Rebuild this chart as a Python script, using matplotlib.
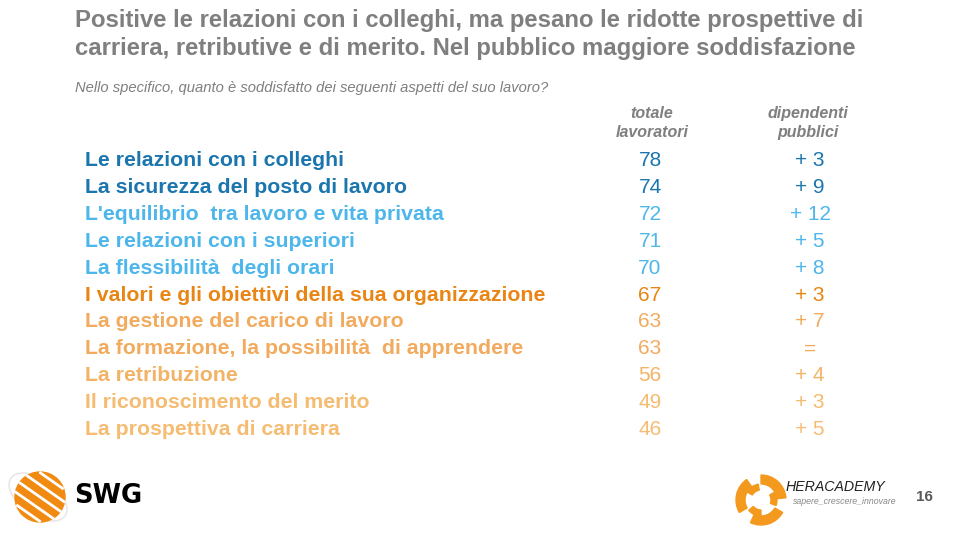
import matplotlib.pyplot as plt
from matplotlib.patches import Circle, Wedge, Ellipse
import numpy as np

plt.rcParams['font.family'] = ['Liberation Sans', 'DejaVu Sans']

title = ("Positive le relazioni con i colleghi, ma pesano le ridotte prospettive di\n"
         "carriera, retributive e di merito. Nel pubblico maggiore soddisfazione")
subtitle = "Nello specifico, quanto è soddisfatto dei seguenti aspetti del suo lavoro?"

aspects = [
    "Le relazioni con i colleghi",
    "La sicurezza del posto di lavoro",
    "L'equilibrio  tra lavoro e vita privata",
    "Le relazioni con i superiori",
    "La flessibilità  degli orari",
    "I valori e gli obiettivi della sua organizzazione",
    "La gestione del carico di lavoro",
    "La formazione, la possibilità  di apprendere",
    "La retribuzione",
    "Il riconoscimento del merito",
    "La prospettiva di carriera",
]
totale = [78, 74, 72, 71, 70, 67, 63, 63, 56, 49, 46]
pubblici = ["+ 3", "+ 9", "+ 12", "+ 5", "+ 8", "+ 3", "+ 7", "=", "+ 4", "+ 3", "+ 5"]
row_colors = ["#1B75AE", "#1B75AE", "#4DB6EA", "#4DB6EA", "#4DB6EA", "#E98514",
              "#F2AB5E", "#F2AB5E", "#F3B366", "#F5BB70", "#F5BC72"]
col_headers = ["totale\nlavoratori", "dipendenti\npubblici"]

W, H = 960, 540
fig = plt.figure(figsize=(W / 100, H / 100), dpi=100)
fig.patch.set_facecolor("white")

# title block
fig.text(75 / W, 1 - 9 / H, title, ha="left", va="top", fontsize=17.2,
         fontweight="bold", color="#7F7F7F", linespacing=1.27)
fig.text(75 / W, 1 - 88 / H, subtitle, ha="left", va="center", fontsize=10.6,
         style="italic", color="#7F7F7F")

# table
n = len(aspects)
ax = fig.add_axes([0, 1 - 443 / H, 1, 296 / H])
ax.set_xlim(0, W)
ax.set_ylim(n - 0.5, -0.5)
ax.axis("off")

for i, (lab, tot, pub, c) in enumerate(zip(aspects, totale, pubblici, row_colors)):
    ax.text(85, i, lab, ha="left", va="center", fontsize=15.3, fontweight="bold", color=c)
    ax.text(650, i, str(tot), ha="center", va="center", fontsize=15, color=c)
    ax.text(810, i, pub, ha="center", va="center", fontsize=15, color=c)

for x, h in zip([652, 808], col_headers):
    ax.text(x, -1.4, h, ha="center", va="center", fontsize=11.5, style="italic",
            fontweight="bold", color="#7F7F7F", linespacing=1.3)

# logos
lx = fig.add_axes([0, 0, 1, 1], zorder=-1)
lx.set_xlim(0, W)
lx.set_ylim(H, 0)
lx.axis("off")

lx.add_patch(Ellipse((38, 497), 66, 36, angle=35, fill=False, ec="#E8E8E8", lw=1.2))
lx.add_patch(Circle((40, 497), 25, color="#F08A10"))
for k in range(-2, 3):
    t = np.linspace(-1, 1, 30)
    xs = 40 + t * 26 * np.cos(np.radians(35)) - k * 10 * np.sin(np.radians(35))
    ys = 497 + t * 26 * np.sin(np.radians(35)) + k * 10 * np.cos(np.radians(35))
    inside = (xs - 40) ** 2 + (ys - 497) ** 2 < 25 ** 2
    lx.plot(xs[inside], ys[inside], color="white", lw=2)
lx.text(74, 496, "SWG", ha="left", va="center", fontsize=18.5, fontweight="bold",
        color="black", family="DejaVu Sans")

cx, cy = 761, 500
for ang in [30, 150, 270]:
    lx.add_patch(Wedge((cx, cy), 25, ang, ang + 85, width=9, color="#F39A1E"))
    lx.add_patch(Wedge((cx, cy), 16, ang + 60, ang + 110, width=6, color="#F39A1E"))
lx.text(786, 487, "HERACADEMY", ha="left", va="center", fontsize=10.2,
        style="italic", color="#222222")
lx.text(793, 501, "sapere_crescere_innovare", ha="left", va="center", fontsize=6.3,
        style="italic", color="#888888")
lx.text(924, 497, "16", ha="center", va="center", fontsize=11, fontweight="bold",
        color="#595959")

fig.savefig("out.png", dpi=100, facecolor="white")
